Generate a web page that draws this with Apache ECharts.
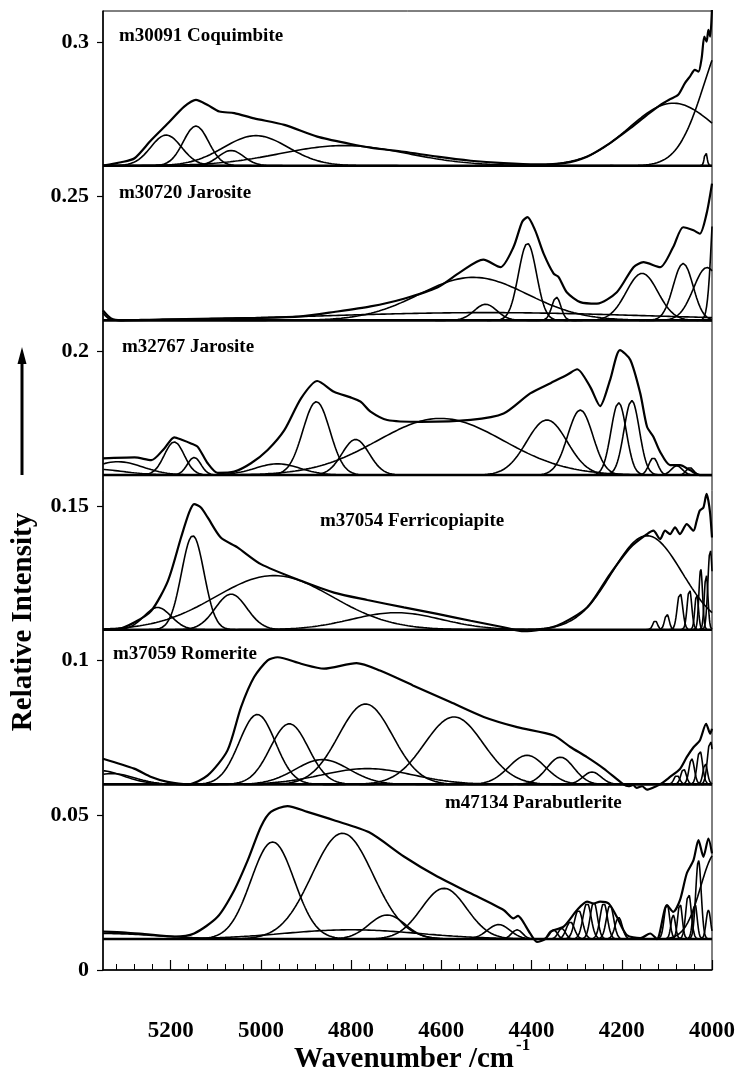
<!DOCTYPE html>
<html><head><meta charset="utf-8">
<script src="https://cdn.jsdelivr.net/npm/echarts@6/dist/echarts.min.js"></script>
<style>html,body{margin:0;padding:0;background:#fff}#c{width:742px;height:1077px}</style>
</head><body><div id="c"></div>
<script>
// ---------- data ----------
const panelNames = ['m30091 Coquimbite','m30720 Jarosite','m32767 Jarosite','m37054 Ferricopiapite','m37059 Romerite','m47134 Parabutlerite'];
const baselines = [0.26, 0.21, 0.16, 0.11, 0.06, 0.01];
const xTickLabels = [4000, 4200, 4400, 4600, 4800, 5000, 5200];
const xMinorTicks = [4040,4080,4120,4160,4240,4280,4320,4360,4440,4480,4520,4560,4640,4680,4720,4760,4840,4880,4920,4960,5040,5080,5120,5160,5240,5280,5320];
const yTickLabels = [0, 0.05, 0.1, 0.15, 0.2, 0.25, 0.3];

// observed spectra [wavenumber, intensity]
const coquimbiteSpectrum = [[5350,0.2600],[5310,0.2611],[5280,0.2624],[5243,0.2683],[5206,0.2737],[5170,0.2791],[5144,0.2813],[5118,0.2796],[5092,0.2775],[5059,0.2770],[5015,0.2753],[4948,0.2732],[4875,0.2694],[4801,0.2670],[4757,0.2658],[4683,0.2645],[4609,0.2629],[4535,0.2616],[4462,0.2608],[4388,0.2604],[4329,0.2608],[4277,0.2629],[4226,0.2673],[4181,0.2721],[4144,0.2764],[4115,0.2796],[4093,0.2815],[4075,0.2829],[4060,0.2867],[4049,0.2888],[4038,0.2910],[4030,0.2904],[4023,0.2947],[4017,0.3017],[4012,0.3001],[4008,0.3039],[4004,0.3017],[4000,0.3110]];
const jarosite1Spectrum = [[5350,0.2132],[5332,0.2106],[5310,0.2100],[5200,0.2103],[5000,0.2108],[4911,0.2113],[4838,0.2127],[4757,0.2145],[4683,0.2170],[4609,0.2206],[4558,0.2256],[4507,0.2296],[4469,0.2272],[4440,0.2337],[4421,0.2418],[4409,0.2434],[4392,0.2391],[4373,0.2315],[4351,0.2251],[4340,0.2240],[4322,0.2191],[4292,0.2159],[4255,0.2154],[4211,0.2191],[4174,0.2272],[4152,0.2288],[4115,0.2272],[4086,0.2337],[4064,0.2401],[4041,0.2391],[4027,0.2380],[4012,0.2445],[4000,0.2542]];
const jarosite2Spectrum = [[5350,0.1654],[5280,0.1657],[5243,0.1648],[5214,0.1686],[5192,0.1722],[5174,0.1713],[5155,0.1702],[5140,0.1691],[5118,0.1638],[5096,0.1607],[5059,0.1611],[5022,0.1638],[4985,0.1681],[4948,0.1745],[4911,0.1848],[4875,0.1904],[4838,0.1869],[4801,0.1851],[4779,0.1837],[4757,0.1805],[4720,0.1778],[4646,0.1772],[4535,0.1778],[4462,0.1799],[4403,0.1864],[4358,0.1897],[4321,0.1924],[4299,0.1942],[4270,0.1885],[4248,0.1823],[4226,0.1907],[4204,0.2004],[4181,0.1972],[4159,0.1864],[4144,0.1756],[4130,0.1724],[4115,0.1675],[4093,0.1632],[4071,0.1632],[4049,0.1616],[4027,0.1600],[4000,0.1600]];
const ferricopiapiteSpectrum = [[5350,0.1100],[5317,0.1102],[5280,0.1124],[5243,0.1161],[5206,0.1258],[5177,0.1398],[5159,0.1479],[5148,0.1506],[5133,0.1495],[5118,0.1463],[5089,0.1398],[5052,0.1366],[5000,0.1312],[4911,0.1258],[4838,0.1220],[4764,0.1196],[4683,0.1172],[4609,0.1151],[4535,0.1129],[4462,0.1108],[4417,0.1095],[4344,0.1113],[4277,0.1172],[4226,0.1280],[4181,0.1366],[4144,0.1409],[4130,0.1420],[4115,0.1393],[4104,0.1420],[4093,0.1409],[4082,0.1431],[4071,0.1409],[4056,0.1441],[4041,0.1420],[4034,0.1452],[4027,0.1485],[4019,0.1495],[4012,0.1539],[4008,0.1517],[4004,0.1474],[4000,0.1398]];
const romeriteSpectrum = [[5350,0.0683],[5281,0.0651],[5243,0.0624],[5207,0.0608],[5162,0.0600],[5118,0.0629],[5074,0.0710],[5044,0.0850],[5015,0.0947],[4985,0.1001],[4963,0.1011],[4911,0.0990],[4860,0.0974],[4788,0.0992],[4736,0.0968],[4663,0.0920],[4580,0.0866],[4506,0.0818],[4432,0.0785],[4351,0.0758],[4314,0.0721],[4277,0.0688],[4240,0.0651],[4196,0.0600],[4185,0.0594],[4175,0.0598],[4167,0.0589],[4155,0.0594],[4144,0.0583],[4130,0.0590],[4115,0.0600],[4093,0.0624],[4071,0.0650],[4056,0.0688],[4041,0.0720],[4027,0.0742],[4013,0.0796],[4004,0.0764],[4000,0.0780]];
const parabutleriteSpectrum = [[5350,0.0124],[5300,0.0121],[5258,0.0116],[5192,0.0108],[5148,0.0118],[5096,0.0172],[5059,0.0258],[5029,0.0355],[5000,0.0463],[4978,0.0511],[4941,0.0530],[4897,0.0511],[4838,0.0484],[4760,0.0445],[4683,0.0367],[4609,0.0302],[4535,0.0248],[4462,0.0194],[4440,0.0167],[4430,0.0175],[4421,0.0161],[4403,0.0118],[4388,0.0091],[4370,0.0100],[4358,0.0124],[4329,0.0140],[4299,0.0194],[4277,0.0221],[4262,0.0215],[4248,0.0221],[4229,0.0215],[4211,0.0172],[4189,0.0113],[4159,0.0103],[4137,0.0118],[4122,0.0100],[4100,0.0210],[4086,0.0188],[4071,0.0226],[4056,0.0312],[4041,0.0355],[4030,0.0420],[4019,0.0366],[4008,0.0425],[4000,0.0377]];

// fitted component bands [centre cm-1, height above panel baseline, width (sigma) cm-1]
const coquimbiteBands = [[5210,0.0099,34],[5144,0.0128,28],[5011,0.0097,72],[5066,0.0049,28],[4816,0.0065,140],[4086,0.0202,98],[3956,0.0446,60],[4014,0.0045,3]];
const jarosite1Bands = [[5370,0.006,15],[4500,0.0025,350],[4529,0.0139,120],[4502,0.0052,25],[4409,0.0249,20],[4345,0.0075,10],[4155,0.0152,35],[4064,0.0184,22],[4011,0.0171,30],[3990,0.05,10]];
const jarosite2Bands = [[5317,0.0043,55],[5380,0.002,70],[5192,0.0107,22],[5148,0.0057,15],[4963,0.0036,50],[4877,0.0237,30],[4790,0.0115,30],[4602,0.0183,140],[4366,0.0178,45],[4292,0.021,28],[4207,0.0234,17],[4178,0.0241,17],[4130,0.0056,10],[4078,0.003,12],[4049,0.0024,8]];
const ferricopiapiteBands = [[5229,0.0072,30],[5151,0.0304,25],[5066,0.0115,35],[4971,0.0175,130],[4700,0.0055,100],[4144,0.0304,78],[4126,0.003,5],[4100,0.0051,5],[4071,0.012,6],[4050,0.0131,5],[4034,0.0115,4],[4025,0.0196,4],[4013,0.018,4],[4004,0.026,5]];
const romeriteBands = [[5360,0.0045,55],[5330,0.0035,50],[5008,0.0226,40],[4937,0.0196,42],[4864,0.008,60],[4768,0.026,60],[4764,0.0051,100],[4572,0.0218,65],[4410,0.0094,40],[4336,0.0088,30],[4266,0.004,20],[4078,0.003,6],[4063,0.005,6],[4045,0.0083,6],[4027,0.011,6],[4015,0.0067,5],[4004,0.0142,6]];
const parabutleriteBands = [[5350,0.0018,120],[4974,0.0314,48],[4819,0.0342,68],[4594,0.0164,50],[4720,0.0078,40],[4473,0.0047,25],[4432,0.003,12],[4800,0.003,150],[4351,0.003,8],[4333,0.0035,8],[4314,0.0056,9],[4296,0.0094,9],[4277,0.0117,9],[4262,0.012,8],[4240,0.0117,8],[4226,0.011,8],[4207,0.007,8],[4100,0.0115,6],[4086,0.0078,5],[4071,0.0115,5],[4052,0.0148,6],[4038,0.0115,5],[4030,0.0255,6],[4008,0.0094,5],[3990,0.028,35]];

// ---------- chart ----------
const X_MIN = 4000, X_MAX = 5350;
const FONT = '"Liberation Serif", "Times New Roman", serif';
const panels = [
  {spec: coquimbiteSpectrum, bands: coquimbiteBands},
  {spec: jarosite1Spectrum, bands: jarosite1Bands},
  {spec: jarosite2Spectrum, bands: jarosite2Bands},
  {spec: ferricopiapiteSpectrum, bands: ferricopiapiteBands},
  {spec: romeriteSpectrum, bands: romeriteBands},
  {spec: parabutleriteSpectrum, bands: parabutleriteBands}
];

function bandPoints(b, base) {
  const c = b[0], h = b[1], s = b[2];
  const lo = Math.max(X_MIN, c - 4.5 * s), hi = Math.min(X_MAX, c + 4.5 * s);
  const step = Math.min(2, s / 5);
  const pts = [];
  for (let x = lo; x < hi; x += step) pts.push([x, base + h * Math.exp(-(x - c) * (x - c) / (2 * s * s))]);
  pts.push([hi, base + h * Math.exp(-(hi - c) * (hi - c) / (2 * s * s))]);
  return pts;
}

const series = [];
panels.forEach((p, i) => {
  const base = baselines[i];
  p.bands.forEach(b => series.push({
    type: 'line', data: bandPoints(b, base), symbol: 'none', silent: true, z: 2,
    lineStyle: {width: 1.6, color: '#000'}
  }));
  series.push({
    type: 'line', data: [[X_MIN, base], [X_MAX, base]], symbol: 'none', silent: true, z: 3,
    lineStyle: {width: 2.6, color: '#000'}
  });
  series.push({
    type: 'line', data: p.spec, smooth: 0.25, symbol: 'none', silent: true, z: 4,
    lineStyle: {width: 2.2, color: '#000'}
  });
});

const labelPos = [[119,36],[119,193],[122,347],[320,521],[113,654],[445,803]];
const graphic = panelNames.map((t, i) => ({
  type: 'text', x: labelPos[i][0], y: labelPos[i][1], z: 10,
  style: {text: t, fill: '#000', font: 'bold 19px ' + FONT, textAlign: 'left', textVerticalAlign: 'middle', align: 'left', verticalAlign: 'middle'}
}));
graphic.push({
  type: 'text', x: 24, y: 622, rotation: Math.PI / 2, z: 10,
  style: {text: 'Relative Intensity', fill: '#000', font: 'bold 29px ' + FONT, textAlign: 'center', textVerticalAlign: 'middle', align: 'center', verticalAlign: 'middle'}
});
graphic.push({type: 'line', shape: {x1: 22, y1: 475, x2: 22, y2: 360}, style: {stroke: '#000', lineWidth: 3}, z: 10});
graphic.push({type: 'polygon', shape: {points: [[22, 347], [17.5, 364], [26.5, 364]]}, style: {fill: '#000'}, z: 10});
graphic.push({
  type: 'text', x: 514, y: 1060, z: 10,
  style: {text: 'Wavenumber /cm', fill: '#000', font: 'bold 29px ' + FONT, textAlign: 'right', textVerticalAlign: 'middle', align: 'right', verticalAlign: 'middle'}
});
graphic.push({
  type: 'text', x: 516, y: 1046, z: 10,
  style: {text: '-1', fill: '#000', font: 'bold 17px ' + FONT, textAlign: 'left', textVerticalAlign: 'middle', align: 'left', verticalAlign: 'middle'}
});

const option = {
  animation: false,
  backgroundColor: '#fff',
  grid: {left: 103, right: 30, top: 11, bottom: 107, show: true, borderColor: '#000', borderWidth: 1, containLabel: false},
  xAxis: [{
    type: 'value', min: X_MIN, max: X_MAX, inverse: true, position: 'bottom',
    axisLine: {show: true, onZero: false, lineStyle: {color: '#000', width: 1.5}},
    axisTick: {show: true, inside: true, length: 10, lineStyle: {color: '#000', width: 1.2}, customValues: xTickLabels},
    axisLabel: {show: true, customValues: xTickLabels, margin: 50, color: '#000', fontFamily: FONT, fontWeight: 'bold', fontSize: 23,
      formatter: v => String(v)},
    splitLine: {show: false}
  }, {
    type: 'value', min: X_MIN, max: X_MAX, inverse: true, position: 'bottom',
    axisLine: {show: false},
    axisTick: {show: true, inside: true, length: 6, lineStyle: {color: '#000', width: 1}, customValues: xMinorTicks},
    axisLabel: {show: false},
    splitLine: {show: false}
  }],
  yAxis: {
    type: 'value', min: 0, max: 0.31,
    axisLine: {show: true, onZero: false, lineStyle: {color: '#000', width: 1.5}},
    axisTick: {show: true, inside: false, length: 6, lineStyle: {color: '#000', width: 1.2}, customValues: yTickLabels},
    axisLabel: {customValues: yTickLabels, margin: 14, color: '#000', fontFamily: FONT, fontWeight: 'bold', fontSize: 22,
      formatter: v => String(v)},
    splitLine: {show: false}
  },
  series: series,
  graphic: graphic
};
const chart = echarts.init(document.getElementById('c'));
chart.setOption(option);
</script>
</body></html>
